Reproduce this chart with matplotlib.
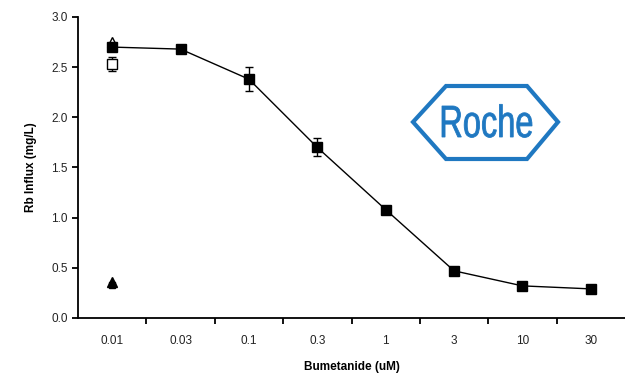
import matplotlib
matplotlib.use("Agg")
import matplotlib.pyplot as plt
from matplotlib.patches import Polygon, PathPatch
from matplotlib.textpath import TextPath
from matplotlib.font_manager import FontProperties
from matplotlib.transforms import Affine2D

plt.rcParams['font.family'] = ['Liberation Sans', 'DejaVu Sans']

categories = ["0.01", "0.03", "0.1", "0.3", "1", "3", "10", "30"]
influx = [2.70, 2.68, 2.38, 1.70, 1.08, 0.47, 0.32, 0.29]
influx_err = [0.04, 0.03, 0.12, 0.09, 0.04, 0.03, 0.02, 0.02]
ctrl_open_sq = 2.53
ctrl_open_sq_err = 0.07
ctrl_open_tri = 2.75
ctrl_low = 0.35

fig = plt.figure(figsize=(6.25, 3.81), dpi=100)
ax = fig.add_axes([0.1248, 0.1654, 0.8752, 0.79])

x = list(range(len(categories)))
ax.errorbar(x, influx, yerr=influx_err, color='black', marker='s', markersize=7,
            linewidth=1.0, elinewidth=1.0, capsize=3, zorder=3)
ax.plot([0], [ctrl_open_tri], marker='^', markersize=7, markerfacecolor='white',
        markeredgecolor='black', linestyle='none', zorder=2)
ax.errorbar([0], [ctrl_open_sq], yerr=[ctrl_open_sq_err], marker='s', markersize=7,
            markerfacecolor='white', markeredgecolor='black', color='black',
            elinewidth=1.0, capsize=3, linestyle='none', zorder=2)
ax.plot([0], [ctrl_low + 0.01], marker='^', markersize=7, color='black', linestyle='none')
ax.plot([0], [ctrl_low - 0.02], marker='s', markersize=5, color='black', linestyle='none')

ax.set_xlim(-0.5, len(categories) - 0.5)
ax.set_ylim(0, 3.0)
ax.set_yticks([0, 0.5, 1.0, 1.5, 2.0, 2.5, 3.0])
ax.set_yticklabels(["0.0", "0.5", "1.0", "1.5", "2.0", "2.5", "3.0"])
ax.set_xticks(x)
ax.set_xticklabels(categories)
ax.set_xticks([i + 0.5 for i in x[:-1]], minor=True)
ax.tick_params(axis='x', which='major', length=0, pad=12, labelsize=8.5, labelcolor='#222222')
ax.tick_params(axis='x', which='minor', length=4, width=1.3, direction='out')
ax.tick_params(axis='y', length=4, width=1.3, labelsize=8.5, labelcolor='#222222')
for s in ['top', 'right']:
    ax.spines[s].set_visible(False)
for s in ['left', 'bottom']:
    ax.spines[s].set_linewidth(1.3)

ax.set_xlabel("Bumetanide (uM)", fontsize=8.5, fontweight='bold', labelpad=10)
ax.set_ylabel("Rb Influx (mg/L)", fontsize=8.5, fontweight='bold', labelpad=10)

# Roche logo
blue = '#1f78c1'
W, H = 625, 381
pts = [(413, 122), (446, 86), (527, 86), (558, 122), (527, 159), (446, 159)]
poly = Polygon([(px / W, 1 - py / H) for px, py in pts], closed=True, fill=False,
               edgecolor=blue, linewidth=3.0, transform=fig.transFigure)
fig.add_artist(poly)

fp = FontProperties(family='Liberation Sans', weight='normal')
tp = TextPath((0, 0), "Roche", size=100, prop=fp)
bb = tp.get_extents()
cap = TextPath((0, 0), "R", size=100, prop=fp).get_extents()
target_w, target_h = 90.0, 31.0  # pixels
sx = target_w / bb.width
sy = target_h / cap.height
left_px, base_px = 442, H - 137
tr = (Affine2D().translate(-bb.x0, 0).scale(sx, sy).translate(left_px, base_px)
      + Affine2D().scale(1.0 / W, 1.0 / H) + fig.transFigure)
patch = PathPatch(tp, facecolor=blue, edgecolor=blue, linewidth=0.6, transform=tr)
fig.add_artist(patch)

fig.savefig("out.png", dpi=100)
